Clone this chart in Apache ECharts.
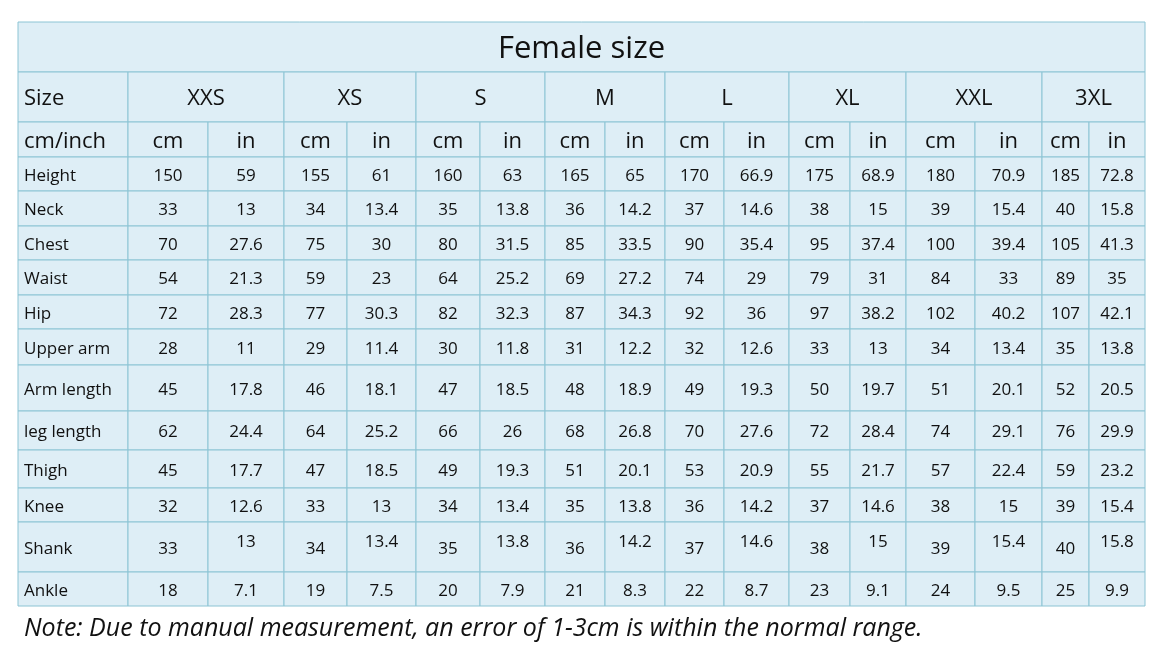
<!DOCTYPE html>
<html>
<head>
<meta charset="utf-8">
<title>Female size</title>
<script src="https://cdn.jsdelivr.net/npm/echarts@6/dist/echarts.min.js"></script>
<style>body{margin:0;background:#fff}</style>
</head>
<body>
<div id="main" style="width:1167px;height:661px;"></div>
<script>
var title = 'Female size';
var sizes = ['XXS', 'XS', 'S', 'M', 'L', 'XL', 'XXL', '3XL'];
var measures = ['Height', 'Neck', 'Chest', 'Waist', 'Hip', 'Upper arm', 'Arm length', 'leg length', 'Thigh', 'Knee', 'Shank', 'Ankle'];
var cmValues = [
  [150, 155, 160, 165, 170, 175, 180, 185],
  [33, 34, 35, 36, 37, 38, 39, 40],
  [70, 75, 80, 85, 90, 95, 100, 105],
  [54, 59, 64, 69, 74, 79, 84, 89],
  [72, 77, 82, 87, 92, 97, 102, 107],
  [28, 29, 30, 31, 32, 33, 34, 35],
  [45, 46, 47, 48, 49, 50, 51, 52],
  [62, 64, 66, 68, 70, 72, 74, 76],
  [45, 47, 49, 51, 53, 55, 57, 59],
  [32, 33, 34, 35, 36, 37, 38, 39],
  [33, 34, 35, 36, 37, 38, 39, 40],
  [18, 19, 20, 21, 22, 23, 24, 25]
];
var inValues = [
  [59, 61, 63, 65, 66.9, 68.9, 70.9, 72.8],
  [13, 13.4, 13.8, 14.2, 14.6, 15, 15.4, 15.8],
  [27.6, 30, 31.5, 33.5, 35.4, 37.4, 39.4, 41.3],
  [21.3, 23, 25.2, 27.2, 29, 31, 33, 35],
  [28.3, 30.3, 32.3, 34.3, 36, 38.2, 40.2, 42.1],
  [11, 11.4, 11.8, 12.2, 12.6, 13, 13.4, 13.8],
  [17.8, 18.1, 18.5, 18.9, 19.3, 19.7, 20.1, 20.5],
  [24.4, 25.2, 26, 26.8, 27.6, 28.4, 29.1, 29.9],
  [17.7, 18.5, 19.3, 20.1, 20.9, 21.7, 22.4, 23.2],
  [12.6, 13, 13.4, 13.8, 14.2, 14.6, 15, 15.4],
  [13, 13.4, 13.8, 14.2, 14.6, 15, 15.4, 15.8],
  [7.1, 7.5, 7.9, 8.3, 8.7, 9.1, 9.5, 9.9]
];
var note = 'Note: Due to manual measurement, an error of 1-3cm is within the normal range.';

// layout (pixels on the 1167x661 value axes)
var colEdges = [18, 128, 208, 284, 347, 416, 480, 545, 605, 665, 724, 789, 850, 906, 975, 1042, 1089, 1145];
var rowEdges = [157, 191, 226, 260, 295, 329, 365, 411, 450, 488, 522, 572, 606];
var titleTop = 22, sizeTop = 72, unitTop = 122;

var cells = [];
function cell(x0, x1, y0, y1, text, fs, align, dy) {
  cells.push([x0, x1, y0, y1, String(text), fs, align || 'center', dy || 0]);
}
cell(colEdges[0], colEdges[17], titleTop, sizeTop, title, 31);
cell(colEdges[0], colEdges[1], sizeTop, unitTop, 'Size', 22, 'left');
cell(colEdges[0], colEdges[1], unitTop, rowEdges[0], 'cm/inch', 22, 'left');
sizes.forEach(function (s, i) {
  cell(colEdges[1 + 2 * i], colEdges[3 + 2 * i], sizeTop, unitTop, s, 22);
  cell(colEdges[1 + 2 * i], colEdges[2 + 2 * i], unitTop, rowEdges[0], 'cm', 22);
  cell(colEdges[2 + 2 * i], colEdges[3 + 2 * i], unitTop, rowEdges[0], 'in', 22);
});
measures.forEach(function (m, r) {
  var y0 = rowEdges[r], y1 = rowEdges[r + 1];
  cell(colEdges[0], colEdges[1], y0, y1, m, 17, 'left');
  sizes.forEach(function (s, i) {
    cell(colEdges[1 + 2 * i], colEdges[2 + 2 * i], y0, y1, cmValues[r][i], 17);
    cell(colEdges[2 + 2 * i], colEdges[3 + 2 * i], y0, y1, inValues[r][i], 17, 'center', m === 'Shank' ? -7 : 0);
  });
});

var myChart = echarts.init(document.getElementById('main'));
myChart.setOption({
  animation: false,
  grid: { left: 0, right: 0, top: 0, bottom: 0 },
  xAxis: { type: 'value', min: 0, max: 1167, show: false },
  yAxis: { type: 'value', min: 0, max: 661, inverse: true, show: false },
  series: [{
    type: 'custom',
    data: cells,
    renderItem: function (params, api) {
      var p0 = api.coord([api.value(0), api.value(2)]);
      var p1 = api.coord([api.value(1), api.value(3)]);
      var align = cells[params.dataIndex][6];
      var dy = cells[params.dataIndex][7];
      return {
        type: 'group',
        children: [{
          type: 'rect',
          shape: { x: p0[0], y: p0[1], width: p1[0] - p0[0], height: p1[1] - p0[1] },
          style: { fill: '#deeef6', stroke: '#8cc4d4', lineWidth: 1 }
        }, {
          type: 'text',
          style: {
            x: align === 'left' ? p0[0] + 6 : (p0[0] + p1[0]) / 2,
            y: (p0[1] + p1[1]) / 2 + dy + 2,
            text: cells[params.dataIndex][4],
            fill: '#111',
            font: cells[params.dataIndex][5] + 'px "Open Sans", sans-serif',
            align: align,
            verticalAlign: 'middle'
          }
        }]
      };
    }
  }],
  graphic: [{
    type: 'text',
    left: 24, top: 616,
    style: { text: note, fill: '#111', font: 'italic 25px "Open Sans", sans-serif' }
  }]
});
</script>
</body>
</html>
